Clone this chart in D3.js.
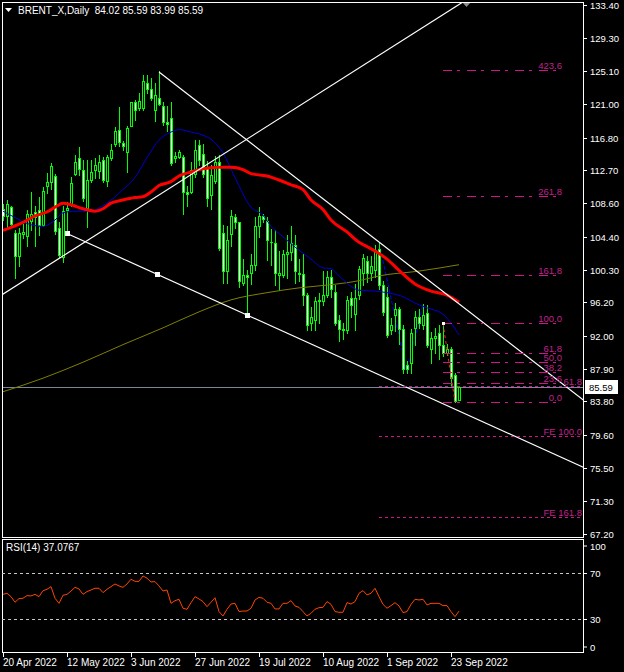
<!DOCTYPE html>
<html><head><meta charset="utf-8">
<script src="https://cdn.jsdelivr.net/npm/d3@7/dist/d3.min.js"></script>
<style>
body{margin:0;background:#000;}
svg{display:block;}
text{font-family:"Liberation Sans",Arial,sans-serif;}
</style>
</head><body>
<svg id="c" width="624" height="672"></svg>
<script>
// ---------- DATA ----------
const symbolTitle = "BRENT_X,Daily  84.02 85.59 83.99 85.59";
const opens  = [107.9,107.0,108.1,104.9,102.0,104.7,104.5,106.4,107.5,107.7,105.9,110.7,111.3,112.0,105.5,101.9,107.7,108.4,112.3,114.2,112.8,108.0,111.5,112.7,112.6,114.0,111.4,114.2,116.0,117.8,116.1,115.0,118.3,121.2,120.5,120.5,123.6,122.9,120.3,121.8,120.8,118.7,119.3,114.2,114.4,114.4,110.0,110.0,112.3,115.9,114.8,113.0,109.6,111.4,113.7,104.9,100.1,104.8,106.9,106.2,98.6,99.6,99.8,100.9,105.7,107.0,106.4,103.8,103.6,99.6,99.6,102.3,102.5,103.4,99.9,99.7,97.1,93.6,94.0,96.3,96.3,97.1,99.4,97.5,94.0,92.7,92.7,96.7,94.7,97.1,99.9,101.4,99.9,100.2,102.9,98.4,96.8,92.7,94.6,95.3,92.8,88.4,88.6,93.0,94.4,93.4,94.8,90.4,91.7,92.3,90.8,89.9,90.4,87.1,84.02];
const highs  = [108.5,109.0,108.3,105.3,105.5,106.0,107.7,110.0,108.2,109.4,110.6,112.4,113.6,112.2,106.3,108.2,108.8,111.9,114.6,115.6,114.0,114.0,114.0,114.2,114.6,114.4,114.6,116.0,118.1,120.6,116.4,118.3,121.3,121.5,122.4,124.6,124.6,124.3,123.6,125.1,121.3,120.8,121.3,115.0,115.2,114.6,110.8,113.7,116.5,116.5,116.0,113.9,113.4,114.5,114.6,105.9,105.7,107.8,107.3,106.3,101.6,100.2,102.2,106.9,108.1,107.2,106.9,105.4,105.2,102.6,102.8,104.6,105.7,104.6,101.6,102.2,97.3,95.6,96.9,97.4,100.1,100.1,100.3,98.3,94.6,93.6,97.0,97.5,98.5,100.8,102.3,102.0,102.0,103.4,103.7,98.8,98.1,94.2,96.1,95.6,93.4,88.9,92.8,95.1,95.4,96.0,95.8,92.5,93.0,93.3,93.6,91.0,90.6,87.4,85.59];
const lows   = [106.5,105.6,105.7,99.2,100.8,104.2,103.3,105.3,103.3,104.6,105.7,109.9,110.4,104.8,101.9,101.3,104.8,108.2,112.1,112.1,108.9,105.6,111.3,111.7,111.7,111.3,110.8,114.0,115.8,115.8,115.2,112.5,118.2,119.0,120.3,120.3,122.4,121.5,118.9,120.9,118.4,117.6,113.4,113.8,114.2,107.3,108.2,109.9,111.9,113.4,111.9,108.2,107.9,111.1,102.8,98.6,98.6,103.3,105.5,98.1,98.4,94.6,98.5,100.3,104.4,106.3,101.5,100.9,98.3,97.7,99.4,99.2,101.5,98.6,98.9,95.8,92.7,92.7,92.7,93.6,95.8,96.8,96.8,93.3,91.4,91.6,92.4,94.4,92.7,96.6,98.4,98.7,99.0,99.4,97.9,94.6,91.8,92.2,92.6,91.0,87.4,87.4,87.4,90.8,93.0,92.9,90.6,88.6,89.8,89.1,89.5,89.6,85.9,83.76,83.99];
const closes = [107.0,108.5,106.0,102.0,104.9,105.0,107.2,107.3,106.9,105.9,110.1,111.3,113.2,105.1,102.1,107.6,108.0,111.1,113.8,112.9,109.2,111.5,112.5,113.4,113.8,111.5,114.4,115.3,117.6,116.3,115.8,118.0,121.2,120.3,121.4,123.9,122.9,121.7,122.1,121.0,118.7,118.5,113.6,114.5,115.0,110.0,109.8,112.7,115.3,114.0,112.2,109.2,112.1,113.7,103.0,100.1,104.0,107.0,106.2,98.9,99.6,99.4,100.9,105.7,107.0,106.6,104.0,103.7,99.8,99.8,102.3,102.5,103.6,100.1,99.7,97.1,93.4,94.4,96.3,96.5,97.1,99.4,97.9,93.6,92.8,92.9,96.5,95.9,96.7,100.4,101.8,99.9,100.8,102.7,98.4,95.0,92.1,93.4,95.4,92.9,87.9,87.9,92.3,94.4,93.6,94.6,90.8,91.7,92.0,90.8,89.8,90.4,86.7,83.8,85.59];
const lastClose = 85.59;

const priceTickLabels = ["133.40","129.30","125.10","121.00","116.80","112.70","108.60","104.40","100.30","96.20","92.00","87.90","83.80","79.60","75.50","71.30","67.20"];
const dateTickBars   = [0,16,32,48,64,80,96,112];
const dateTickLabels = ["20 Apr 2022","12 May 2022","3 Jun 2022","27 Jun 2022","19 Jul 2022","10 Aug 2022","1 Sep 2022","23 Sep 2022"];

const maFastBars = [0,3,7,10,13,15,18,22,24,27,30,33,36,39,42,44,47,50,52,55,58,62,65,67,70,74,77,80,82,84,87,89,93,96,100,103,106,108,110,112,114];
const maFastVals = [107.6,106.8,105.9,105.7,106.5,107.4,107.6,107.6,108.0,109.0,110.3,111.8,114.3,116.5,117.5,117.8,117.5,117.1,116.6,114.9,111.8,108.1,107.1,105.7,104.4,102.7,101.6,100.5,100.4,99.5,98.2,97.7,97.6,97.4,96.9,96.1,95.5,95.2,94.7,93.6,92.1];
const maMidBars = [0,5,8,11,14,15,17,20,23,25,27,30,33,35,37,39,42,44,47,50,54,57,60,62,66,69,72,75,77,80,82,86,89,92,96,99,103,107,111,114];
const maMidVals = [105.2,106.2,107.0,107.5,108.4,108.6,108.4,107.9,107.6,107.9,108.6,109.0,109.3,109.4,110.0,110.8,111.3,112.0,112.5,112.9,113.1,113.1,112.8,112.3,112.0,111.5,110.9,110.3,109.0,107.8,106.5,105.0,103.7,102.9,101.6,100.2,98.5,97.6,97.1,96.2];
const maSlowBars = [0,10,20,30,40,49,57,66,74,82,89,94,104,114];
const maSlowVals = [85.0,86.7,88.7,90.9,93.0,95.0,96.5,97.4,98.0,98.4,98.9,99.5,100.1,100.9];

const rsiValues = [51.7,52.6,49.7,44.8,48.0,48.3,50.6,50.3,51.7,49.7,54.9,56.1,58.4,48.3,43.9,50.9,51.7,54.6,57.8,56.4,51.7,54.1,55.5,57.0,57.0,53.2,56.1,58.4,60.7,59.0,57.8,60.7,64.8,63.0,63.0,67.7,65.7,62.5,62.8,59.0,54.6,55.5,43.9,46.2,47.4,39.6,38.7,44.5,49.7,47.7,45.4,41.0,44.8,48.8,36.7,32.9,38.7,43.3,43.9,36.7,37.2,37.2,39.6,46.8,49.1,48.3,44.8,43.9,39.0,39.0,43.9,43.9,46.2,41.6,40.4,36.7,32.9,35.2,38.7,40.1,40.4,45.4,43.0,36.7,36.1,36.1,44.5,43.3,45.4,52.6,54.9,51.2,52.6,57.0,49.7,43.0,39.6,41.9,44.5,41.6,35.8,36.7,43.0,47.4,46.8,47.4,42.5,43.9,43.9,43.9,41.9,41.9,36.7,32.3,37.0767];
const rsiLabel = "RSI(14) 37.0767";
const rsiLevels = [70,30];
const rsiTickVals = [100,70,30,0];

// trend lines: [bar, price] anchors
const lineRise  = [[0,97.23],[115,133.78]];
const lineUpper = [[39,125.02],[145.75,83.72]];
const lineLower = [[16,104.81],[61,94.61]];
// Fibonacci retracement
const fibBars = [110,138.5];
const fibHigh = 93.57, fibLow = 83.76;
const fibLevels = [0,23.6,38.2,50,61.8,100,161.8,261.8,423.6];
const fibLabels = ["0.0","23.6","38.2","50.0","61.8","100.0","161.8","261.8","423.6"];
// Fibonacci expansion (points A, B, C and levels)
const fePointBars = [94,101,105];
const fePointVals = [103.7,87.4,96.0];
const feStartBar = 94;
const feValues = [85.68,79.47,69.29];
const feLabels = ["61.8","FE 100.0","FE 161.8"];

// ---------- LAYOUT ----------
const L=2, R=583, T=2, B=537, RT=539, RB=652;
const svg = d3.select("#c");
svg.append("rect").attr("width",624).attr("height",672).attr("fill","#000");
const x = d3.scaleLinear().domain([0,114]).range([3,459]);
const y = d3.scaleLinear().domain([67.2,133.4]).range([534,5]);
const yr = d3.scaleLinear().domain([0,100]).range([653.8,538.8]);

svg.append("clipPath").attr("id","mainClip").append("rect").attr("x",L).attr("y",T).attr("width",R-L).attr("height",B-T);
svg.append("clipPath").attr("id","rsiClip").append("rect").attr("x",L).attr("y",RT).attr("width",R-L).attr("height",RB-RT);

const main = svg.append("g").attr("clip-path","url(#mainClip)");

// bid line
main.append("line").attr("x1",L).attr("x2",R).attr("y1",Math.round(y(lastClose))+0.5).attr("y2",Math.round(y(lastClose))+0.5)
  .attr("stroke","#778899").attr("stroke-width",1);

// FE connecting lines (behind candles)
main.append("path").attr("d",d3.line()(fePointBars.map((b,k)=>[x(b),y(fePointVals[k])])))
  .attr("fill","none").attr("stroke","#0000ff").attr("stroke-width",1).attr("stroke-dasharray","4,2");

// candles
const cg = main.append("g").attr("shape-rendering","crispEdges");
opens.forEach((o,i)=>{
  const c=closes[i], h=highs[i], l=lows[i];
  const cx=Math.round(x(i));
  const yh=Math.round(y(h)), yl=Math.round(y(l));
  cg.append("rect").attr("x",cx).attr("y",yh).attr("width",1).attr("height",Math.max(1,yl-yh+1)).attr("fill","#00ff00");
  const top=Math.round(y(Math.max(o,c))), bot=Math.round(y(Math.min(o,c)));
  cg.append("rect").attr("x",cx-1).attr("y",top).attr("width",3).attr("height",Math.max(1,bot-top+1)).attr("fill","#00ff00");
  if(bot-top>=2){
    cg.append("rect").attr("x",cx).attr("y",top+1).attr("width",1).attr("height",bot-top-1).attr("fill", c<o ? "#ffffff" : "#000000");
  }
});

// moving averages
const lineGen = d3.line().curve(d3.curveMonotoneX);
function maPath(bars,vals){ return lineGen(bars.map((b,k)=>[x(b),y(vals[k])])); }
main.append("path").attr("d",maPath(maSlowBars,maSlowVals)).attr("fill","none").attr("stroke","#808000").attr("stroke-width",1);
main.append("path").attr("d",maPath(maFastBars,maFastVals)).attr("fill","none").attr("stroke","#0000d0").attr("stroke-width",1);
main.append("path").attr("d",maPath(maMidBars,maMidVals)).attr("fill","none").attr("stroke","#ff0000").attr("stroke-width",3);

// trend lines
function ray(a,b,back){
  const x1=x(a[0]),y1=y(a[1]),x2=x(b[0]),y2=y(b[1]);
  const k=(y2-y1)/(x2-x1);
  const xs = back ? L-50 : x1, xe = R+50;
  return [[xs,y1+k*(xs-x1)],[xe,y1+k*(xe-x1)]];
}
[[lineRise,true],[lineUpper,false],[lineLower,false]].forEach(([ln,back])=>{
  const p=ray(ln[0],ln[1],back);
  main.append("line").attr("x1",p[0][0]).attr("y1",p[0][1]).attr("x2",p[1][0]).attr("y2",p[1][1])
    .attr("stroke","#ffffff").attr("stroke-width",1.2);
});
// anchor squares of selected line
[lineLower[0][0], (lineLower[0][0]+lineLower[1][0])/2, lineLower[1][0]].forEach(b=>{
  const a=lineLower[0], c=lineLower[1];
  const p=a[1]+(c[1]-a[1])*(b-a[0])/(c[0]-a[0]);
  main.append("rect").attr("x",Math.round(x(b))-2).attr("y",Math.round(y(p))-2).attr("width",5).attr("height",5).attr("fill","#fff");
});

// Fibonacci retracement
const fibCol="#d0148c", fibTxt="#c0208f";
const fx1=x(fibBars[0]), fx2=x(fibBars[1]);
fibLevels.forEach((lv,k)=>{
  const p=fibLow+(fibHigh-fibLow)*lv/100;
  const yy=Math.round(y(p))+0.5;
  main.append("line").attr("x1",fx1).attr("x2",fx2).attr("y1",yy).attr("y2",yy)
    .attr("stroke",fibCol).attr("stroke-width",1).attr("stroke-dasharray","9,5,3,7");
  main.append("text").attr("x",fx2+5).attr("y",yy-2).attr("text-anchor","end")
    .attr("font-size",9.5).attr("fill",fibTxt).text(fibLabels[k]);
});
main.append("line").attr("x1",x(110)).attr("y1",y(fibHigh)).attr("x2",x(113)).attr("y2",y(fibLow))
  .attr("stroke","#ff2020").attr("stroke-dasharray","3,3");
main.append("rect").attr("x",Math.round(x(110))-1).attr("y",Math.round(y(fibHigh))-1).attr("width",3).attr("height",3).attr("fill","#fff");

// Fibonacci expansion levels
feValues.forEach((v,k)=>{
  const yy=Math.round(y(v))+0.5;
  main.append("line").attr("x1",x(feStartBar)).attr("x2",R).attr("y1",yy).attr("y2",yy)
    .attr("stroke",fibCol).attr("stroke-width",1).attr("stroke-dasharray","3,3");
  main.append("text").attr("x",R-1).attr("y",yy-2).attr("text-anchor","end")
    .attr("font-size",9.5).attr("fill",fibTxt).text(feLabels[k]);
});

// chart shift marker
svg.append("path").attr("d","M462,2 L471,2 L466.5,7 Z").attr("fill","#8c8c8c");

// header
svg.append("path").attr("d","M5,8 L12,8 L8.5,12 Z").attr("fill","#fff");
svg.append("text").attr("x",18).attr("y",14).attr("font-size",10).attr("fill","#fff").attr("xml:space","preserve").text(symbolTitle);

// frames
const fr = svg.append("g").attr("fill","none").attr("stroke","#fff").attr("shape-rendering","crispEdges");
fr.append("rect").attr("x",L+0.5).attr("y",T+0.5).attr("width",R-L).attr("height",B-T);
fr.append("rect").attr("x",L+0.5).attr("y",RT+0.5).attr("width",R-L).attr("height",RB-RT);

// price axis
const ax = svg.append("g");
priceTickLabels.forEach(t=>{
  const yy=Math.round(y(+t))+0.5;
  ax.append("line").attr("x1",R).attr("x2",R+4).attr("y1",yy).attr("y2",yy).attr("stroke","#fff").attr("shape-rendering","crispEdges");
  ax.append("text").attr("x",590).attr("y",yy+3.5).attr("font-size",9.5).attr("fill","#fff").text(t);
});
// bid label
const by=Math.round(y(lastClose));
ax.append("rect").attr("x",585).attr("y",by-7).attr("width",33).attr("height",14).attr("fill","#fff");
ax.append("text").attr("x",589).attr("y",by+4).attr("font-size",9.5).attr("fill","#000").text(lastClose.toFixed(2));

// RSI panel
const rg = svg.append("g").attr("clip-path","url(#rsiClip)");
rsiLevels.forEach(v=>{
  const yy=Math.round(yr(v))+0.5;
  rg.append("line").attr("x1",L).attr("x2",R).attr("y1",yy).attr("y2",yy).attr("stroke","#c8c8c8").attr("stroke-dasharray","3,3");
});
rg.append("path").attr("d",d3.line()(rsiValues.map((v,i)=>[x(i),yr(v)]))).attr("fill","none").attr("stroke","#ff4500").attr("stroke-width",1);
svg.append("text").attr("x",6).attr("y",551).attr("font-size",10).attr("fill","#fff").text(rsiLabel);
rsiTickVals.forEach(v=>{
  const yy=Math.round(yr(v))+0.5;
  const ly=Math.min(Math.max(yy,546),647);
  svg.append("line").attr("x1",R).attr("x2",R+4).attr("y1",ly).attr("y2",ly).attr("stroke","#fff");
  svg.append("text").attr("x",590).attr("y",ly+3.5).attr("font-size",9.5).attr("fill","#fff").text(v);
});

// date axis
dateTickBars.forEach((b,k)=>{
  const xx=Math.round(x(b))+0.5;
  svg.append("line").attr("x1",xx).attr("x2",xx).attr("y1",RB).attr("y2",RB+5).attr("stroke","#fff");
  svg.append("text").attr("x",xx-0.5).attr("y",666).attr("font-size",10).attr("fill","#fff").text(dateTickLabels[k]);
});
</script>
</body></html>
